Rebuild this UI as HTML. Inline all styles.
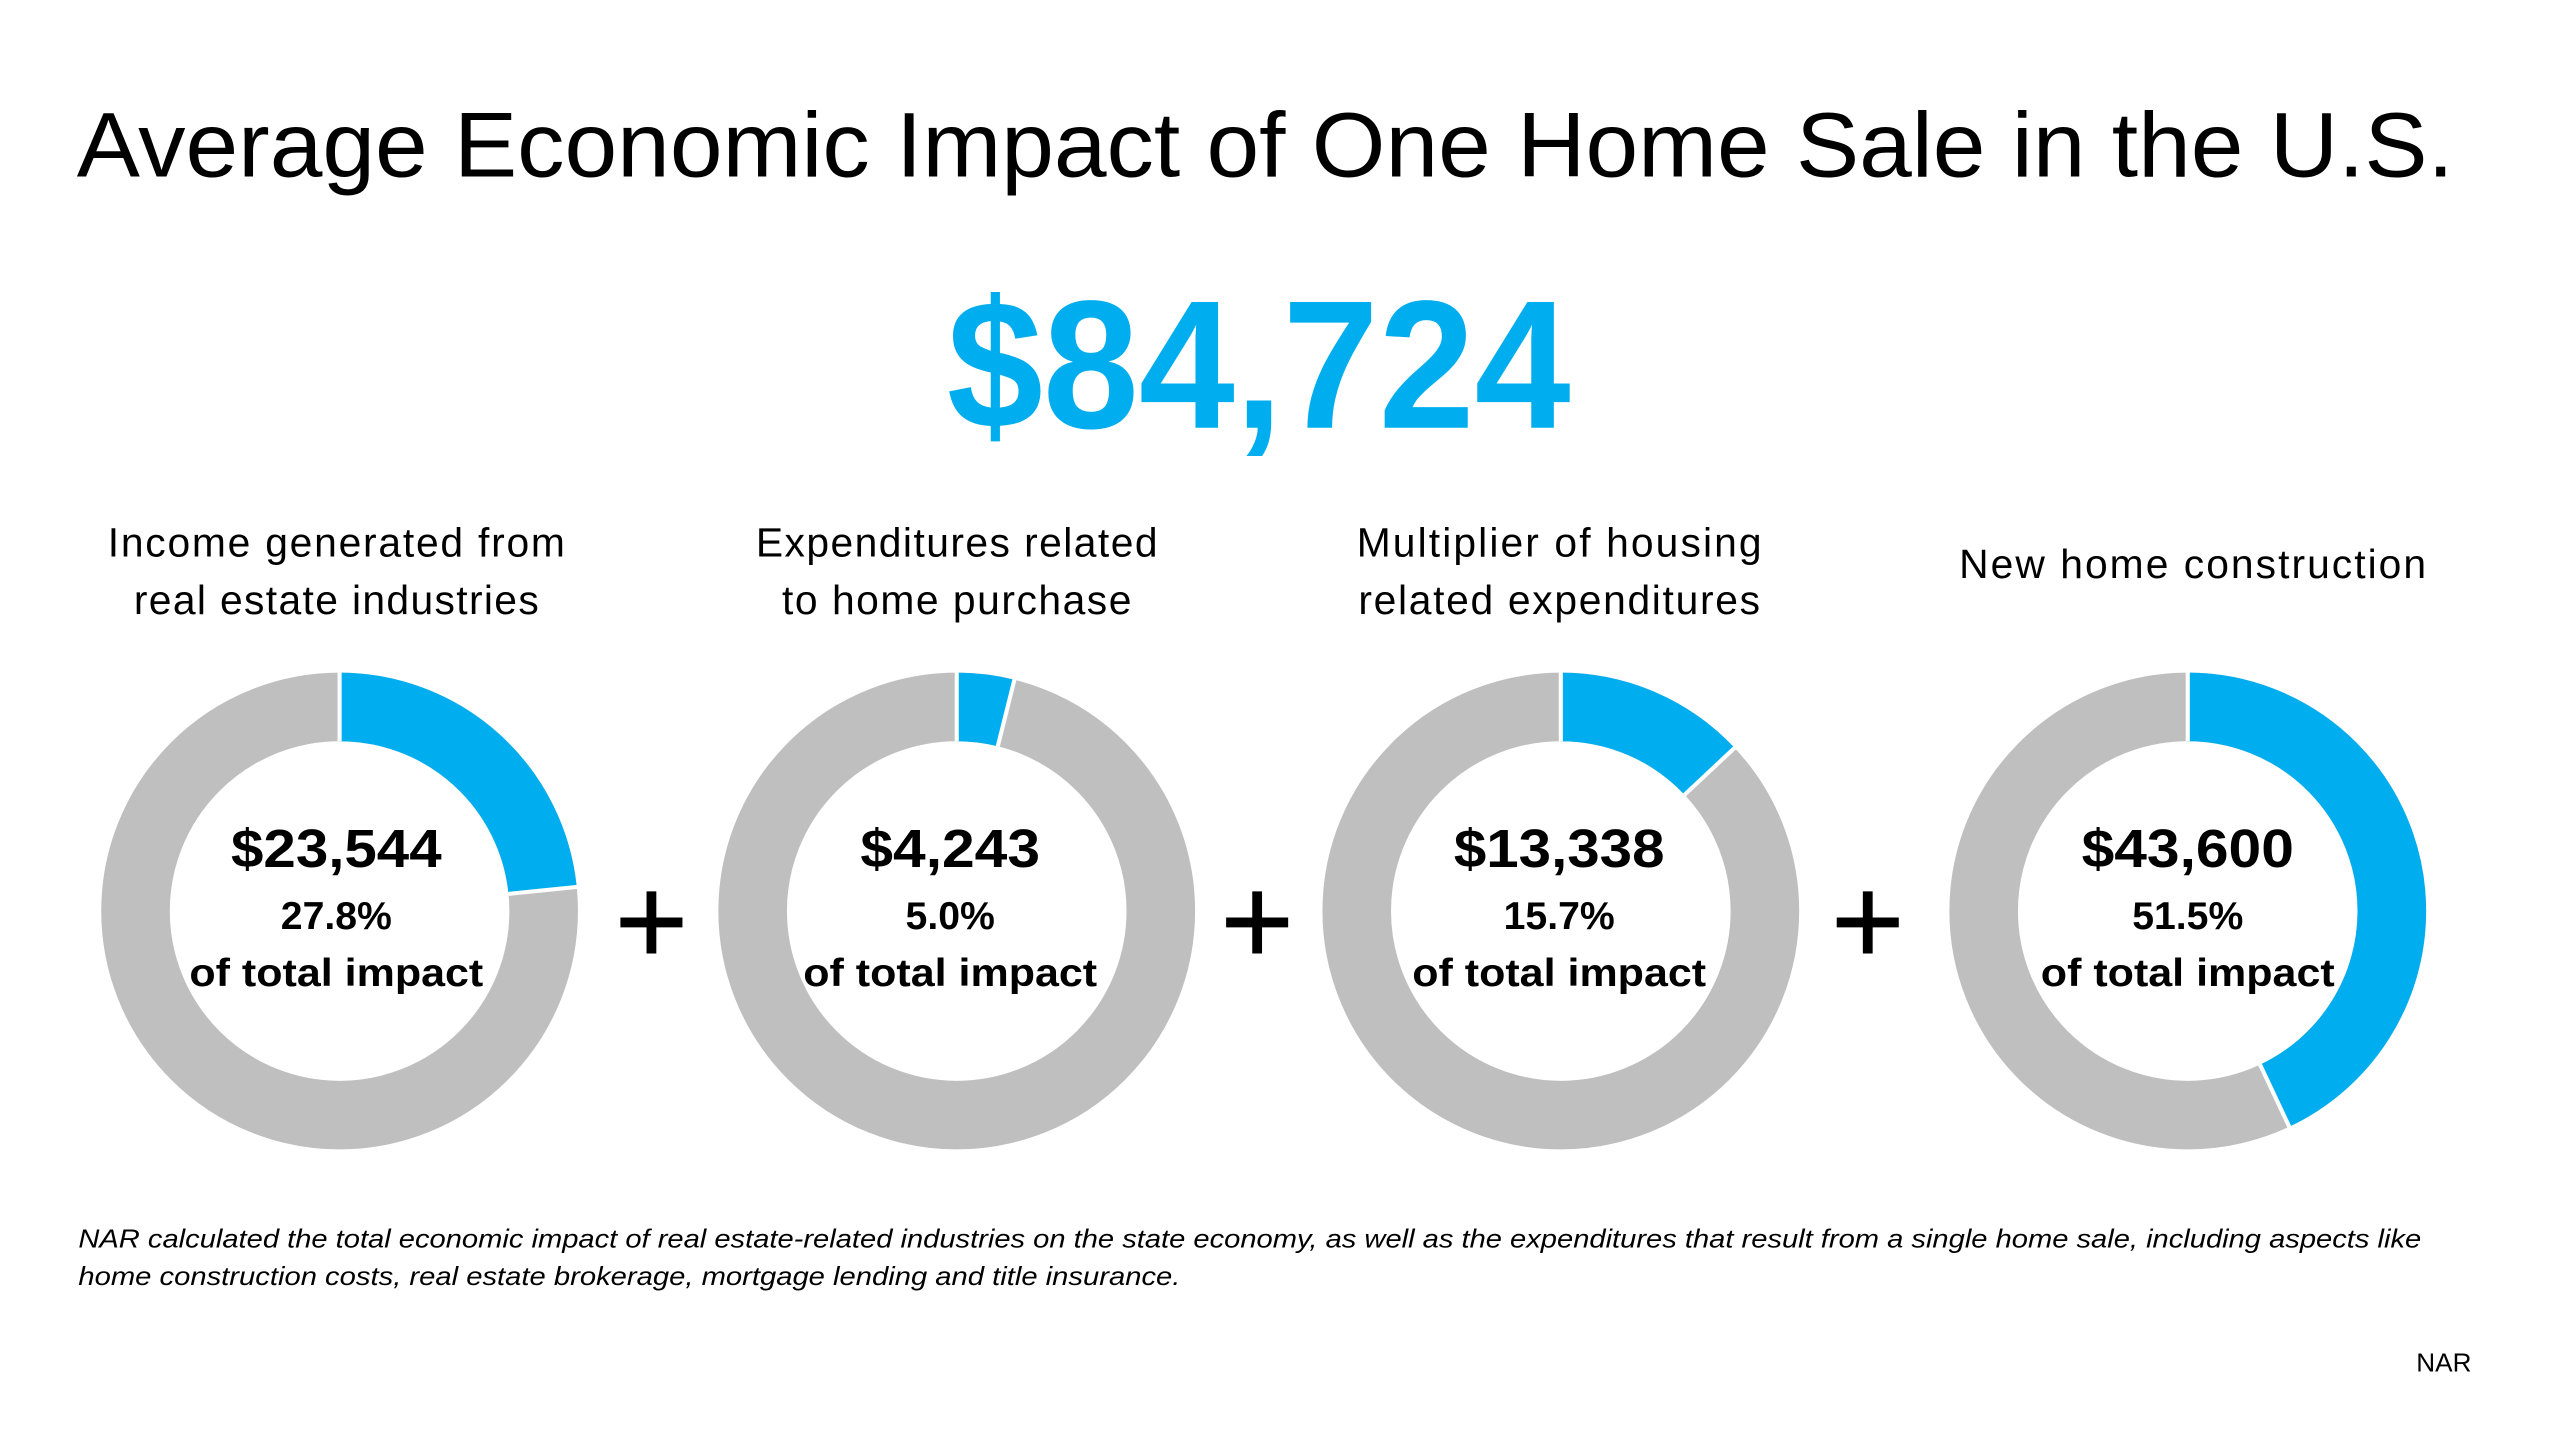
<!DOCTYPE html>
<html><head><meta charset="utf-8"><style>
html,body{margin:0;padding:0;background:#fff;width:2560px;height:1440px;overflow:hidden}
svg{display:block}
text{font-family:"Liberation Sans",sans-serif}
</style></head><body>
<svg width="2560" height="1440" viewBox="0 0 1568 882" xmlns="http://www.w3.org/2000/svg">
<rect width="1568" height="882" fill="#fff"/>
<text x="47" y="108" font-size="56" fill="#000" textLength="1456" lengthAdjust="spacingAndGlyphs">Average Economic Impact of One Home Sale in the U.S.</text>
<text x="580" y="262" font-size="112" font-weight="bold" fill="#00AEEF" textLength="382" lengthAdjust="spacingAndGlyphs">$84,724</text>

<g font-size="25" fill="#000" text-anchor="middle" lengthAdjust="spacingAndGlyphs">
<text x="206" y="341" textLength="280">Income generated from</text>
<text x="206" y="376" textLength="248">real estate industries</text>
<text x="586" y="341" textLength="246">Expenditures related</text>
<text x="586" y="376" textLength="214">to home purchase</text>
<text x="955" y="341" textLength="248">Multiplier of housing</text>
<text x="955" y="376" textLength="246">related expenditures</text>
<text x="1343" y="354" textLength="286">New home construction</text>
</g>

<g fill="none" stroke-width="42">
<g transform="translate(208,558) rotate(-90)">
<circle r="125" stroke="#BFBFBF"/>
<circle r="125" stroke="#00AEEF" stroke-dasharray="183.8 1000"/>
</g>
<g transform="translate(586,558) rotate(-90)">
<circle r="125" stroke="#BFBFBF"/>
<circle r="125" stroke="#00AEEF" stroke-dasharray="30.6 1000"/>
</g>
<g transform="translate(956,558) rotate(-90)">
<circle r="125" stroke="#BFBFBF"/>
<circle r="125" stroke="#00AEEF" stroke-dasharray="102 1000"/>
</g>
<g transform="translate(1340,558) rotate(-90)">
<circle r="125" stroke="#BFBFBF"/>
<circle r="125" stroke="#00AEEF" stroke-dasharray="337.7 1000"/>
</g>
</g>
<g stroke="#fff" stroke-width="2.5">
<line x1="208" y1="411" x2="208" y2="454"/>
<line x1="586" y1="411" x2="586" y2="454"/>
<line x1="956" y1="411" x2="956" y2="454"/>
<line x1="1340" y1="411" x2="1340" y2="454"/>
<g transform="translate(208,558) rotate(84.2)"><line x1="0" y1="-104" x2="0" y2="-148"/></g>
<g transform="translate(586,558) rotate(14)"><line x1="0" y1="-104" x2="0" y2="-148"/></g>
<g transform="translate(956,558) rotate(46.8)"><line x1="0" y1="-104" x2="0" y2="-148"/></g>
<g transform="translate(1340,558) rotate(154.8)"><line x1="0" y1="-104" x2="0" y2="-148"/></g>
</g>

<g font-weight="bold" fill="#000" text-anchor="middle">
<text x="206" y="531" font-size="33" textLength="129" lengthAdjust="spacingAndGlyphs">$23,544</text>
<text x="206" y="569" font-size="24">27.8%</text>
<text x="206" y="604" font-size="24" textLength="180" lengthAdjust="spacingAndGlyphs">of total impact</text>
<text x="582" y="531" font-size="33" textLength="110" lengthAdjust="spacingAndGlyphs">$4,243</text>
<text x="582" y="569" font-size="24">5.0%</text>
<text x="582" y="604" font-size="24" textLength="180" lengthAdjust="spacingAndGlyphs">of total impact</text>
<text x="955" y="531" font-size="33" textLength="129" lengthAdjust="spacingAndGlyphs">$13,338</text>
<text x="955" y="569" font-size="24">15.7%</text>
<text x="955" y="604" font-size="24" textLength="180" lengthAdjust="spacingAndGlyphs">of total impact</text>
<text x="1340" y="531" font-size="33" textLength="130" lengthAdjust="spacingAndGlyphs">$43,600</text>
<text x="1340" y="569" font-size="24">51.5%</text>
<text x="1340" y="604" font-size="24" textLength="180" lengthAdjust="spacingAndGlyphs">of total impact</text>
</g>

<g stroke="#000" stroke-width="6">
<line x1="380" y1="565" x2="418" y2="565"/><line x1="399" y1="546" x2="399" y2="584"/>
<line x1="751" y1="565" x2="789" y2="565"/><line x1="770" y1="546" x2="770" y2="584"/>
<line x1="1125" y1="565" x2="1163" y2="565"/><line x1="1144" y1="546" x2="1144" y2="584"/>
</g>

<g font-size="16" font-style="italic" fill="#000">
<text x="48" y="764" textLength="1435" lengthAdjust="spacingAndGlyphs">NAR calculated the total economic impact of real estate-related industries on the state economy, as well as the expenditures that result from a single home sale, including aspects like</text>
<text x="48" y="787" textLength="675" lengthAdjust="spacingAndGlyphs">home construction costs, real estate brokerage, mortgage lending and title insurance.</text>
</g>
<text x="1480" y="840" font-size="16" fill="#000">NAR</text>
</svg>
</body></html>
